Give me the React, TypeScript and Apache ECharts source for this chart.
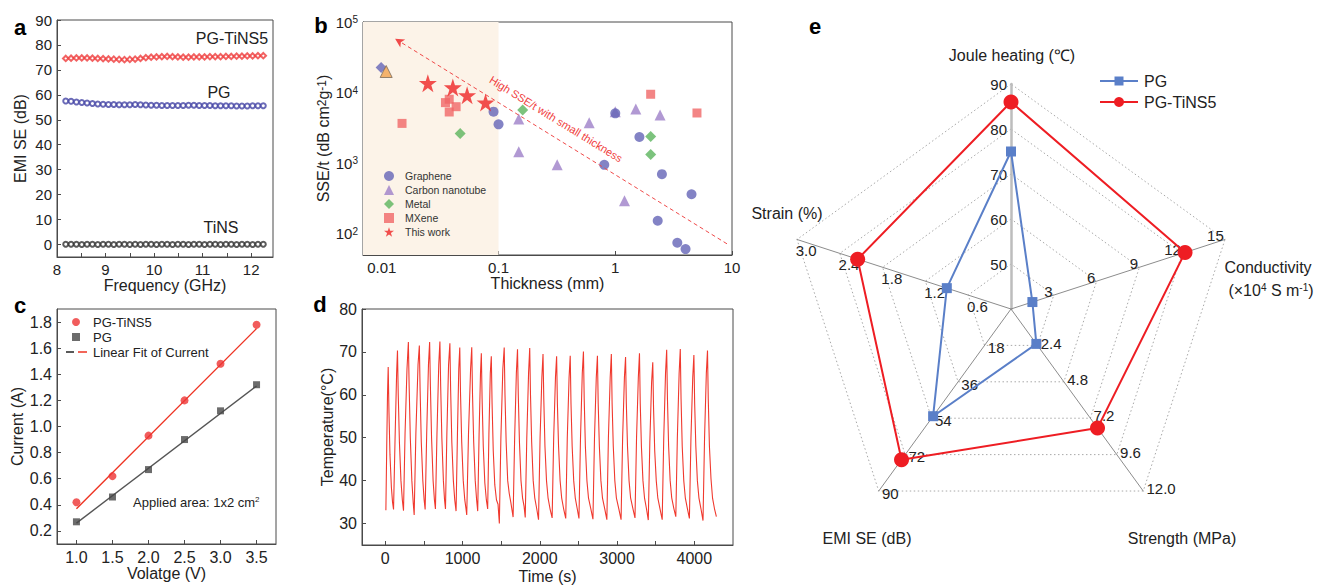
import React, { useEffect, useRef } from 'react';
import * as echarts from 'echarts';

// ---------- Panel a : EMI SE vs frequency ----------
const freqGHz = [8.18, 8.29, 8.40, 8.51, 8.62, 8.73, 8.84, 8.95, 9.06, 9.17, 9.28, 9.39, 9.50, 9.61, 9.72, 9.83, 9.94, 10.05, 10.16, 10.27, 10.38, 10.49, 10.60, 10.71, 10.82, 10.93, 11.04, 11.15, 11.26, 11.37, 11.48, 11.59, 11.70, 11.81, 11.92, 12.03, 12.14, 12.25];
const seTiNS5 = [74.6, 74.7, 74.8, 74.8, 74.8, 74.7, 74.6, 74.5, 74.4, 74.3, 74.2, 74.1, 74.2, 74.3, 74.6, 74.9, 75.1, 75.2, 75.3, 75.4, 75.3, 75.2, 75.1, 75.1, 75.2, 75.2, 75.2, 75.3, 75.3, 75.3, 75.4, 75.4, 75.5, 75.5, 75.6, 75.6, 75.7, 75.7];
const sePG = [57.5, 57.4, 57.1, 56.9, 56.7, 56.5, 56.3, 56.2, 56.1, 56.1, 56.0, 56.0, 56.0, 56.1, 56.0, 55.9, 55.8, 55.8, 55.7, 55.7, 55.7, 55.7, 55.7, 55.8, 55.8, 55.7, 55.7, 55.7, 55.6, 55.6, 55.6, 55.6, 55.5, 55.5, 55.5, 55.6, 55.6, 55.6];
const seTiNS = [0.1, 0.1, 0.1, 0.0, 0.1, 0.1, 0.0, 0.1, 0.1, 0.0, 0.1, 0.1, 0.0, 0.1, 0.0, 0.1, 0.1, 0.0, 0.1, 0.1, 0.0, 0.1, 0.1, 0.0, 0.1, 0.1, 0.0, 0.1, 0.1, 0.0, 0.1, 0.1, 0.0, 0.1, 0.1, 0.0, 0.1, 0.1];
const aXLabels = [8, 9, 10, 11, 12];
const aXTicks = [8, 8.5, 9, 9.5, 10, 10.5, 11, 11.5, 12];
const aYLabels = [0, 10, 20, 30, 40, 50, 60, 70, 80, 90];

// ---------- Panel b : SSE/t vs thickness ----------
const graphene = [[0.0906, 5370], [0.1, 3550], [0.805, 946], [1.0, 5080], [1.61, 2345], [2.51, 698], [2.31, 153], [4.5, 363], [3.4, 74.5], [4.0, 60.6]];
const carbonNanotube = [[0.149, 4230], [0.149, 1450], [0.318, 946], [0.598, 3740], [1.0, 5370], [1.5, 5870], [2.42, 4810], [1.2, 294]];
const metal = [[0.0469, 2640], [0.161, 5680], [2.01, 2390], [2.01, 1330]];
const mxene = [[0.0149, 3660], [0.0351, 7210], [0.0378, 8040], [0.0378, 5310], [0.0433, 6310], [2.01, 9470], [5.01, 5140]];
const thisWork = [[0.0248, 13600], [0.0406, 11800], [0.0538, 9160], [0.0774, 7210]];
const otherDiamond = [[0.00987, 22650]];
const otherTriangle = [[0.0109, 19900]];
const trendArrow = [[9.06, 72], [0.013, 58000]];
const thinRegion = [0.0069, 0.1];

// ---------- Panel c : current vs voltage ----------
const voltage = [1.0, 1.5, 2.0, 2.5, 3.0, 3.5];
const currentTiNS5 = [0.42, 0.62, 0.93, 1.20, 1.48, 1.78];
const currentPG = [0.27, 0.46, 0.67, 0.90, 1.12, 1.32];
const fitTiNS5 = [[1.0, 0.37], [3.5, 1.75]];
const fitPG = [[1.0, 0.26], [3.5, 1.31]];
const cXLabels = [1.0, 1.5, 2.0, 2.5, 3.0, 3.5];
const cYLabels = [0.2, 0.4, 0.6, 0.8, 1.0, 1.2, 1.4, 1.6, 1.8];

// ---------- Panel d : cyclic Joule heating ----------
const heating = [
  [9, 33.1], [20, 48], [30, 60], [39, 66.5],
  [49, 56], [62, 46], [80, 38.5], [95, 35], [108, 33.3], [128, 50], [148, 65], [159, 70.3],
  [169, 60], [184, 49], [204, 40], [222, 35.5], [237, 33.0], [257, 51], [282, 66], [300, 72.3],
  [310, 62], [325, 50], [345, 40], [362, 35], [375, 32.0], [397, 51], [425, 67], [442, 71.5],
  [452, 61], [467, 49], [487, 40], [504, 35.5], [517, 33.3], [537, 51], [560, 67], [575, 72.3],
  [585, 62], [600, 50], [620, 40], [637, 35.5], [650, 33.4], [670, 51], [693, 67], [708, 72.4],
  [718, 62], [733, 50], [753, 40], [768, 35.5], [780, 33.4], [798, 51], [820, 67], [837, 72.0],
  [847, 61], [862, 49], [882, 40], [900, 35.5], [917, 32.9], [935, 51], [952, 66], [965, 71.0],
  [975, 60], [990, 49], [1010, 40], [1030, 35.5], [1045, 33.5], [1055, 32.0], [1078, 51], [1105, 66], [1120, 71.1],
  [1130, 60], [1145, 49], [1165, 40], [1183, 35.5], [1197, 32.9], [1215, 51], [1233, 65], [1244, 69.7],
  [1254, 59], [1269, 48], [1289, 39.5], [1309, 35.5], [1326, 33.4], [1342, 51], [1360, 65], [1373, 69.0],
  [1383, 58], [1398, 47], [1418, 39], [1440, 35.5], [1460, 34.5], [1477, 30.0], [1497, 50], [1522, 66], [1540, 71.0],
  [1550, 60], [1565, 49], [1585, 40], [1605, 37], [1625, 35], [1655, 31.5], [1675, 50], [1697, 65], [1712, 70.6],
  [1722, 60], [1737, 49], [1757, 40], [1777, 36], [1797, 34], [1812, 31.4], [1832, 50], [1855, 65], [1870, 70.9],
  [1880, 60], [1895, 49], [1915, 40], [1935, 36], [1960, 33.5], [1984, 30.9], [2004, 50], [2027, 64], [2042, 69.5],
  [2052, 59], [2067, 48], [2087, 40], [2107, 36], [2132, 33.5], [2160, 31.3], [2180, 50], [2203, 64], [2218, 69.0],
  [2228, 58], [2243, 48], [2263, 40], [2283, 36], [2308, 33.5], [2336, 31.2], [2356, 50], [2379, 64], [2394, 69.1],
  [2404, 58], [2419, 48], [2439, 40], [2459, 36], [2484, 33.5], [2507, 31.2], [2527, 50], [2550, 65], [2565, 70.1],
  [2575, 59], [2590, 48], [2610, 40], [2630, 36], [2660, 33.5], [2688, 31.0], [2708, 50], [2731, 64], [2746, 69.1],
  [2756, 58], [2771, 48], [2791, 40], [2811, 36], [2840, 33.5], [2868, 30.9], [2888, 50], [2911, 64], [2926, 69.5],
  [2936, 58], [2951, 48], [2971, 40], [2991, 36], [3022, 33.5], [3052, 30.9], [3072, 50], [3095, 64], [3110, 68.8],
  [3120, 58], [3135, 48], [3155, 40], [3175, 36], [3205, 33.5], [3232, 31.3], [3252, 50], [3275, 64], [3290, 69.7],
  [3300, 58], [3315, 48], [3335, 40], [3355, 36], [3380, 33.5], [3404, 30.8], [3424, 49], [3447, 63], [3462, 67.6],
  [3472, 57], [3487, 47], [3507, 40], [3527, 36], [3555, 33.5], [3584, 30.9], [3604, 50], [3627, 65], [3642, 70.5],
  [3652, 59], [3667, 48], [3687, 40], [3707, 36], [3735, 33.5], [3760, 31.6], [3780, 50], [3803, 65], [3818, 70.7],
  [3828, 59], [3843, 48], [3863, 40], [3883, 36], [3910, 33.5], [3936, 31.2], [3956, 50], [3979, 64], [3994, 69.3],
  [4004, 58], [4019, 48], [4039, 40], [4059, 36], [4085, 33.5], [4112, 30.7], [4132, 50], [4155, 65], [4170, 70.3],
  [4180, 59], [4195, 48], [4215, 40.5], [4235, 36], [4260, 33.5], [4285, 31.6],
];
const dXLabels = [0, 1000, 2000, 3000, 4000];
const dXTicks = [0, 500, 1000, 1500, 2000, 2500, 3000, 3500, 4000];
const dYLabels = [30, 40, 50, 60, 70, 80];

// ---------- Panel e : radar ----------
const radarAxes = ['Joule heating', 'Strain', 'EMI SE', 'Strength', 'Conductivity'];
const radarMin = [40, 0, 0, 0, 0];
const radarMax = [90, 3, 90, 12, 15];
const radarDecimals = [0, 1, 0, 1, 0];
const radarPG = [75, 0.9, 53, 2.3, 1.5];
const radarTiNS5 = [86, 2.15, 74.5, 7.85, 12.2];

const FONT = '"Liberation Sans", Arial, Helvetica, sans-serif';
const INK = '#222';
const AXIS = '#4a4a4a';
const STAR = 'path://M50,0 L61.2,34.5 L97.6,34.5 L68.2,55.9 L79.4,90.5 L50,69.1 L20.6,90.5 L31.8,55.9 L2.4,34.5 L38.8,34.5 Z';

function mkAxis(grid: number, type: string, min: number, max: number, name: string, nameGap: number, fontSize: number,
  labels?: number[], ticks?: number[], fmt?: (v: number) => string, rich?: any, nameRich?: any) {
  const ax: any = {
    gridIndex: grid, type, min, max, name, nameGap, nameLocation: 'middle',
    nameTextStyle: { color: INK, fontSize: 16, fontFamily: FONT },
    axisLine: { show: true, onZero: false, lineStyle: { color: AXIS, width: 1 } },
    axisTick: { show: true, inside: true, length: 4, lineStyle: { color: AXIS } },
    axisLabel: { color: INK, fontSize, fontFamily: FONT, margin: 5 },
    splitLine: { show: false },
    minorTick: { show: false },
  };
  if (type === 'log') ax.logBase = 10;
  if (labels) ax.axisLabel.customValues = labels;
  if (ticks) ax.axisTick.customValues = ticks;
  if (fmt) ax.axisLabel.formatter = fmt;
  if (rich) ax.axisLabel.rich = rich;
  if (nameRich) ax.nameTextStyle.rich = nameRich;
  return ax;
}

const isPow10 = (v: number) => Math.abs(Math.log10(v) - Math.round(Math.log10(v))) < 1e-6;

function txt(text: string, x: number, y: number, fontSize: number, align = 'center', extra: any = {}, rotation = 0) {
  return {
    type: 'text', x, y, rotation, silent: true, z: 100,
    style: { text, fontSize, fontFamily: FONT, fill: INK, align, verticalAlign: 'middle', ...extra },
  };
}

export default function App() {
  const ref = useRef<HTMLDivElement>(null);
  useEffect(() => {
    document.body.style.margin = '0';
    const chart = echarts.init(ref.current!, null, { renderer: 'svg' });

    const option: any = {
      animation: false,
      backgroundColor: '#fff',
      textStyle: { fontFamily: FONT },
      grid: [
        { left: 57, top: 20, width: 216, height: 237, show: true, borderColor: AXIS, borderWidth: 1 },
        { left: 363, top: 22, width: 369, height: 233, show: true, borderColor: AXIS, borderWidth: 1 },
        { left: 57, top: 309, width: 219, height: 235, show: true, borderColor: AXIS, borderWidth: 1 },
        { left: 362, top: 309, width: 371, height: 236, show: true, borderColor: AXIS, borderWidth: 1 },
      ],
      xAxis: [
        mkAxis(0, 'value', 8, 12.45, 'Frequency (GHz)', 17, 15, aXLabels, aXTicks),
        mkAxis(1, 'log', thinRegion[0], 10, 'Thickness (mm)', 19, 15, undefined, undefined,
          (v: number) => (isPow10(v) ? String(Number(v.toPrecision(6))) : '')),
        mkAxis(2, 'value', 0.73, 3.77, 'Volatge (V)', 20, 16, cXLabels, cXLabels, (v: number) => v.toFixed(1)),
        mkAxis(3, 'value', -300, 4500, 'Time (s)', 23, 16, dXLabels, dXTicks, (v: number) => String(v)),
      ],
      yAxis: [
        mkAxis(0, 'value', -5, 90, 'EMI SE (dB)', 29, 15, aYLabels, aYLabels),
        mkAxis(1, 'log', 50, 100000, 'SSE/t (dB cm{s|2}g{s|-1})', 26, 15, undefined, undefined,
          (v: number) => (isPow10(v) ? '10{s|' + Math.round(Math.log10(v)) + '}' : ''),
          { s: { fontSize: 10, verticalAlign: 'top', fontFamily: FONT, color: INK } },
          { s: { fontSize: 12, verticalAlign: 'top', fontFamily: FONT, color: INK } }),
        mkAxis(2, 'value', 0.1, 1.9, 'Current (A)', 28, 16, cYLabels, cYLabels, (v: number) => v.toFixed(1)),
        mkAxis(3, 'value', 25, 80, 'Temperature(°C)', 26, 16, dYLabels, dYLabels),
      ],
      legend: [
        {
          data: ['Graphene', 'Carbon nanotube', 'Metal', 'MXene', 'This work'],
          orient: 'vertical', left: 384, top: 170, padding: 0, itemWidth: 10, itemHeight: 10, itemGap: 2,
          textStyle: { fontSize: 10.5, color: '#333', fontFamily: FONT, lineHeight: 12, padding: [0, 0, 0, 6] },
          selectedMode: false,
        },
        {
          data: ['PG-TiNS5', 'PG'],
          orient: 'vertical', left: 72, top: 315, padding: 0, itemWidth: 8, itemHeight: 8, itemGap: 1,
          textStyle: { fontSize: 13, color: INK, fontFamily: FONT, lineHeight: 14, padding: [0, 0, 0, 8] },
          selectedMode: false,
        },
      ],
      radar: {
        center: [1011, 309], radius: 225, startAngle: 90, splitNumber: 5, shape: 'polygon',
        axisName: { show: false },
        axisLine: { lineStyle: { color: '#8c8c8c', width: 1 } },
        splitLine: { lineStyle: { color: '#a8a8a8', width: 1, type: [1.5, 2.5] } },
        splitArea: { show: false },
        axisTick: { show: false },
        axisLabel: { show: true, color: INK, fontSize: 15, fontFamily: FONT, showMinLabel: false, margin: 4 },
        indicator: radarAxes.map((n, i) => ({
          name: n, min: radarMin[i], max: radarMax[i],
          axisLabel: {
            formatter: (v: number) => v.toFixed(radarDecimals[i]),
            ...(i === 1 ? { align: 'left', verticalAlign: 'top' } : {}),
          },
          ...(i === 0 ? { axisLine: { lineStyle: { color: '#bdbdbd', width: 2.5 } } } : {}),
        })),
      },
      series: [
        // a
        { type: 'scatter', xAxisIndex: 0, yAxisIndex: 0, symbol: 'emptyDiamond', symbolSize: 5.5, itemStyle: { color: '#ef3b3b', borderWidth: 1 }, data: freqGHz.map((f, i) => [f, seTiNS5[i]]) },
        { type: 'scatter', xAxisIndex: 0, yAxisIndex: 0, symbol: 'emptyCircle', symbolSize: 5, itemStyle: { color: '#4545a5', borderWidth: 1 }, data: freqGHz.map((f, i) => [f, sePG[i]]) },
        { type: 'scatter', xAxisIndex: 0, yAxisIndex: 0, symbol: 'emptyCircle', symbolSize: 5, itemStyle: { color: '#333', borderWidth: 1 }, data: freqGHz.map((f, i) => [f, seTiNS[i]]) },
        // b
        {
          name: 'Graphene', type: 'scatter', xAxisIndex: 1, yAxisIndex: 1, symbol: 'circle', symbolSize: 10, z: 3,
          itemStyle: { color: '#6464b6' }, data: graphene,
          markArea: { silent: true, itemStyle: { color: '#fcf3e8' }, data: [[{ xAxis: thinRegion[0] }, { xAxis: thinRegion[1] }]] },
        },
        { name: 'Carbon nanotube', type: 'scatter', xAxisIndex: 1, yAxisIndex: 1, symbol: 'triangle', symbolSize: 11, z: 2, itemStyle: { color: '#9d80c8' }, data: carbonNanotube },
        { name: 'Metal', type: 'scatter', xAxisIndex: 1, yAxisIndex: 1, symbol: 'diamond', symbolSize: 11, z: 3, itemStyle: { color: '#5bb45d' }, data: metal },
        { name: 'MXene', type: 'scatter', xAxisIndex: 1, yAxisIndex: 1, symbol: 'rect', symbolSize: 9, z: 3, itemStyle: { color: '#f06767' }, data: mxene },
        {
          name: 'This work', type: 'scatter', xAxisIndex: 1, yAxisIndex: 1, symbol: STAR, symbolSize: 18, z: 4, itemStyle: { color: '#ee2424' }, data: thisWork,
          markLine: {
            silent: true, symbol: ['none', 'arrow'], symbolSize: [7, 9],
            lineStyle: { color: '#f04a4a', type: [4, 3], width: 1 },
            label: { show: false },
            data: [[{ coord: trendArrow[0] }, { coord: trendArrow[1] }]],
          },
        },
        { name: 'other-d', type: 'scatter', xAxisIndex: 1, yAxisIndex: 1, symbol: 'diamond', symbolSize: 11, z: 3, itemStyle: { color: '#6464b6' }, data: otherDiamond },
        { name: 'other-t', type: 'scatter', xAxisIndex: 1, yAxisIndex: 1, symbol: 'triangle', symbolSize: 12, z: 3, itemStyle: { color: '#f2a34e', borderColor: '#7a6a5a', borderWidth: 1 }, data: otherTriangle },
        // c
        { name: 'PG-TiNS5', type: 'scatter', xAxisIndex: 2, yAxisIndex: 2, symbol: 'circle', symbolSize: 8, z: 4, itemStyle: { color: '#ee3333' }, data: voltage.map((v, i) => [v, currentTiNS5[i]]) },
        { name: 'PG', type: 'scatter', xAxisIndex: 2, yAxisIndex: 2, symbol: 'rect', symbolSize: 7, z: 4, itemStyle: { color: '#474747' }, data: voltage.map((v, i) => [v, currentPG[i]]) },
        { name: 'fitR', type: 'line', xAxisIndex: 2, yAxisIndex: 2, showSymbol: false, z: 2, lineStyle: { color: '#ee3322', width: 1.4 }, data: fitTiNS5 },
        { name: 'fitK', type: 'line', xAxisIndex: 2, yAxisIndex: 2, showSymbol: false, z: 2, lineStyle: { color: '#555', width: 1.4 }, data: fitPG },
        // d
        { name: 'temp', type: 'line', xAxisIndex: 3, yAxisIndex: 3, showSymbol: false, lineStyle: { color: '#f0392e', width: 1.1 }, data: heating },
        // e
        {
          type: 'radar', z: 3,
          data: [
            { name: 'PG', value: radarPG, symbol: 'rect', symbolSize: 10, itemStyle: { color: '#5a7fc8' }, lineStyle: { color: '#5a7fc8', width: 2 } },
            { name: 'PG-TiNS5', value: radarTiNS5, symbol: 'circle', symbolSize: 15, itemStyle: { color: '#ee1d23' }, lineStyle: { color: '#ee1d23', width: 2 } },
          ],
        },
      ],
      graphic: [
        txt('a', 20, 27, 22, 'center', { fontWeight: 'bold', fill: '#000' }),
        txt('b', 321, 25, 22, 'center', { fontWeight: 'bold', fill: '#000' }),
        txt('c', 20, 305, 22, 'center', { fontWeight: 'bold', fill: '#000' }),
        txt('d', 320, 304, 22, 'center', { fontWeight: 'bold', fill: '#000' }),
        txt('e', 815, 26, 22, 'center', { fontWeight: 'bold', fill: '#000' }),
        txt('PG-TiNS5', 232, 38, 16),
        txt('PG', 219, 92, 16),
        txt('TiNS', 221, 227, 16),
        // b arrow annotation
        txt('High SSE/t with small thickness', 556, 119, 11, 'center', { fill: '#f03c3c' }, -0.552),
        // c extra legend row + annotation
        { type: 'line', silent: true, z: 100, shape: { x1: 66, y1: 352, x2: 74, y2: 352 }, style: { stroke: '#222', lineWidth: 1.5 } },
        { type: 'line', silent: true, z: 100, shape: { x1: 78, y1: 352, x2: 87, y2: 352 }, style: { stroke: '#ee3322', lineWidth: 1.5 } },
        txt('Linear Fit of Current', 93, 352, 13, 'left'),
        txt('Applied area: 1x2 cm{s|2}', 133, 502, 13, 'left', { rich: { s: { fontSize: 8, verticalAlign: 'top', fontFamily: FONT, fill: INK } } }),
        // e axis names
        txt('Joule heating (℃)', 1012, 55, 16),
        txt('Conductivity', 1268, 267, 16),
        txt('(×10{s|4} S m{s|-1})', 1271, 290, 16, 'center', { rich: { s: { fontSize: 10, verticalAlign: 'top', fontFamily: FONT, fill: INK } } }),
        txt('Strain (%)', 787, 213, 16),
        txt('EMI SE (dB)', 867, 538, 16),
        txt('Strength (MPa)', 1182, 538, 16),
        // e legend
        { type: 'line', silent: true, z: 100, shape: { x1: 1100, y1: 81, x2: 1138, y2: 81 }, style: { stroke: '#5a7fc8', lineWidth: 2 } },
        { type: 'rect', silent: true, z: 100, shape: { x: 1114.5, y: 76.5, width: 9, height: 9 }, style: { fill: '#5a7fc8' } },
        txt('PG', 1144, 81, 16, 'left'),
        { type: 'line', silent: true, z: 100, shape: { x1: 1100, y1: 102, x2: 1138, y2: 102 }, style: { stroke: '#ee1d23', lineWidth: 2 } },
        { type: 'circle', silent: true, z: 100, shape: { cx: 1119, cy: 102, r: 5 }, style: { fill: '#ee1d23' } },
        txt('PG-TiNS5', 1144, 102, 16, 'left'),
      ],
    };
    chart.setOption(option);
    return () => chart.dispose();
  }, []);
  return <div ref={ref} style={{ width: 1323, height: 586 }} />;
}
